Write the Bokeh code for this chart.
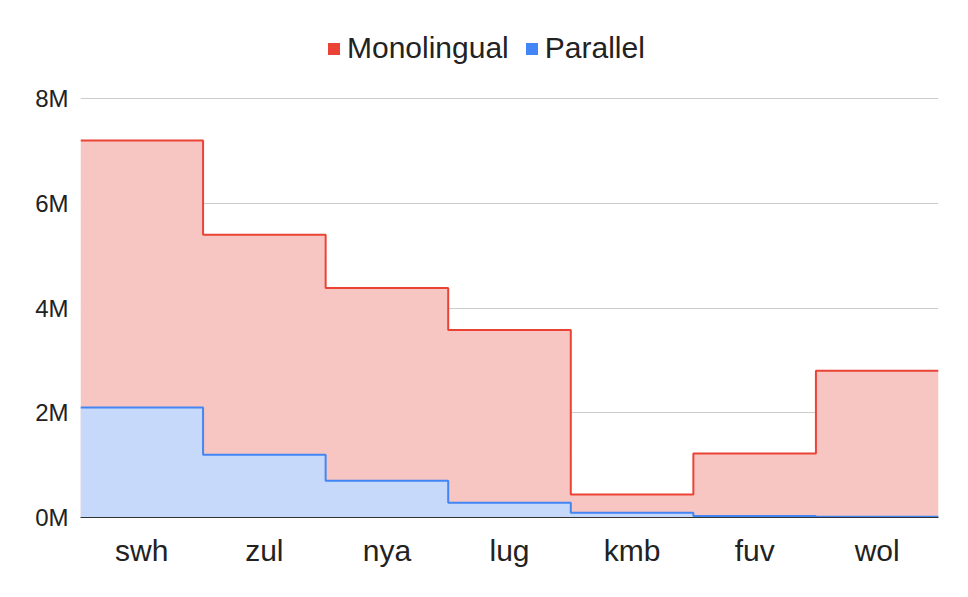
from bokeh.plotting import figure
from bokeh.embed import file_html
from bokeh.resources import INLINE
from bokeh.models import FixedTicker, Legend, LegendItem, ColumnDataSource, Range1d

categories = ["swh", "zul", "nya", "lug", "kmb", "fuv", "wol"]
monolingual = [7.2e6, 5.4e6, 4.38e6, 3.58e6, 0.44e6, 1.22e6, 2.8e6]
parallel = [2.1e6, 1.2e6, 0.7e6, 0.28e6, 0.09e6, 0.03e6, 0.015e6]
y_ticks = [0, 2e6, 4e6, 6e6, 8e6]
y_tick_labels = ["0M", "2M", "4M", "6M", "8M"]

n = len(categories)
xs = list(range(n + 1))
src = ColumnDataSource(dict(
    x=xs,
    mono=monolingual + [monolingual[-1]],
    par=parallel + [parallel[-1]],
    zero=[0] * (n + 1),
))

# frame: top at 10px, bottom at 517px; 8M should sit at 98px
frame_top, frame_bottom, top_tick_px = 10, 517, 98
y_end = 8e6 * (frame_bottom - frame_top) / (frame_bottom - top_tick_px)

FONT = "Liberation Sans"
p = figure(width=960, height=590, output_backend="svg", toolbar_location=None,
           x_range=Range1d(0, n), y_range=Range1d(0, y_end),
           min_border_left=80, min_border_right=22, min_border_top=frame_top,
           min_border_bottom=590 - frame_bottom)
p.outline_line_color = None

a1 = p.varea_step(x="x", y1="zero", y2="mono", step_mode="after", source=src,
                  fill_color="#f8c6c2")
a2 = p.varea_step(x="x", y1="zero", y2="par", step_mode="after", source=src,
                  fill_color="#c6d9fa")
l1 = p.step(x="x", y="mono", mode="after", source=src, line_color="#ea4335", line_width=2)
l2 = p.step(x="x", y="par", mode="after", source=src, line_color="#4285f4", line_width=2)

# legend swatches: zero-size quads, only visible as legend glyphs
sw = ColumnDataSource(dict(l=[0], r=[0], b=[0], t=[0]))
s1 = p.quad(left="l", right="r", bottom="b", top="t", source=sw,
            fill_color="#ea4335", line_color=None)
s2 = p.quad(left="l", right="r", bottom="b", top="t", source=sw,
            fill_color="#4285f4", line_color=None)

p.xaxis.ticker = FixedTicker(ticks=[i + 0.5 for i in range(n)])
p.xaxis.major_label_overrides = {i + 0.5: c for i, c in enumerate(categories)}
p.xaxis.major_tick_line_color = None
p.xaxis.minor_tick_line_color = None
p.xaxis.axis_line_color = "#333333"
p.xaxis.major_label_text_font = FONT
p.xaxis.major_label_text_font_size = "30px"
p.xaxis.major_label_text_color = "#222222"
p.xaxis.major_label_standoff = 10
p.xgrid.grid_line_color = None

p.yaxis.ticker = FixedTicker(ticks=y_ticks)
p.yaxis.major_label_overrides = {t: l for t, l in zip(y_ticks, y_tick_labels)}
p.yaxis.major_tick_line_color = None
p.yaxis.minor_tick_line_color = None
p.yaxis.axis_line_color = None
p.yaxis.major_label_text_font = FONT
p.yaxis.major_label_text_font_size = "24px"
p.yaxis.major_label_text_color = "#222222"
p.yaxis.major_label_standoff = 6
p.ygrid.grid_line_color = "#cccccc"
p.ygrid.ticker = FixedTicker(ticks=y_ticks[1:])

legend = Legend(items=[LegendItem(label="Monolingual", renderers=[s1]),
                       LegendItem(label="Parallel", renderers=[s2])],
                orientation="horizontal", location=(246, 452),
                label_text_font=FONT, label_text_font_size="30px",
                label_text_color="#222222",
                glyph_width=15, glyph_height=15, spacing=15, label_standoff=6,
                padding=5, margin=0,
                border_line_color=None, background_fill_alpha=0)
p.add_layout(legend, "center")

open("out.html", "w").write(file_html(p, INLINE))
